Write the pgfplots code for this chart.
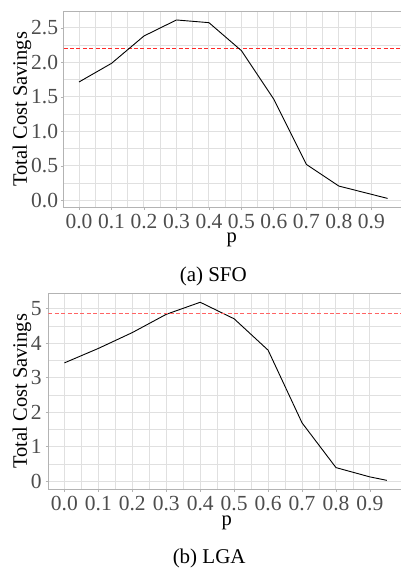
\documentclass[border=0pt]{standalone}
\usepackage{fontspec}
\setmainfont{Liberation Serif}
\newfontfamily\tickfont[Color=4D4D4D]{Liberation Serif}
\usepackage{pgfplots}
\usepackage{pgfplotstable}
\pgfplotsset{compat=1.18}

\definecolor{gridgrey}{RGB}{224,224,224}
\definecolor{bordergrey}{RGB}{179,179,179}
\definecolor{refred}{RGB}{255,40,40}
\definecolor{lgared}{RGB}{255,100,100}

\pgfplotstableread{
p    s
0.00 1.717
0.10 1.987
0.20 2.384
0.30 2.616
0.40 2.577
0.50 2.171
0.60 1.465
0.70 0.522
0.80 0.208
0.95 0.029
}\sfo

\pgfplotstableread{
p    s
0.00 3.43
0.10 3.85
0.20 4.31
0.30 4.84
0.40 5.19
0.50 4.71
0.60 3.80
0.70 1.69
0.80 0.39
0.90 0.12
0.95 0.02
}\lga

\pgfplotsset{ggp/.style={
  scale only axis,
  xmin=-0.0475, xmax=0.9975,
  xtick={0,0.1,0.2,0.3,0.4,0.5,0.6,0.7,0.8,0.9},
  x tick label style={/pgf/number format/fixed, /pgf/number format/zerofill, /pgf/number format/precision=1},
  minor x tick num=1, minor y tick num=1,
  grid=both,
  major grid style={gridgrey, line width=1pt},
  minor grid style={gridgrey, line width=0.6pt},
  axis line style={bordergrey, line width=0.8pt},
  tick align=outside, xtick pos=left, ytick pos=left,
  major tick length=2.75pt, minor tick length=0pt,
  tick style={bordergrey, line width=0.8pt},
  /pgf/number format/assume math mode=true,
  % grey set through the font, not the colour stack
  tick label style={font=\tickfont\fontsize{21.5}{24}\selectfont, inner sep=0pt},
  xticklabel style={anchor=north, yshift=-4pt},
  label style={font=\fontsize{20.5}{24}\selectfont},
  xlabel={p},
  ylabel={Total Cost Savings},
}}

\begin{document}
\begin{tikzpicture}
% (a) SFO
\begin{axis}[ggp,
  at={(63.6pt,-207.3pt)}, anchor=south west,
  width=339.4pt, height=196.3pt,
  ymin=-0.10, ymax=2.746,
  ytick={0,0.5,1,1.5,2,2.5},
  y tick label style={/pgf/number format/fixed, /pgf/number format/zerofill, /pgf/number format/precision=1},
  yticklabel style={anchor=east, xshift=-2.6pt},
  xlabel style={at={(axis description cs:0.5,0)}, anchor=base, yshift=-35.2pt, xshift=-1.5pt},
  ylabel style={at={(axis description cs:0,0.5)}, anchor=base, yshift=36.6pt},
]
\addplot[draw=refred, line width=1pt, dash pattern=on 4pt off 2.4pt] coordinates {(-0.0475,2.205) (0.9975,2.205)};
\addplot[black, line width=0.9pt] table[x=p, y=s] {\sfo};
\end{axis}
\node[anchor=base, font=\fontsize{21}{24}\selectfont] at (213.3pt,-281.7pt) {(a) SFO};

% (b) LGA
\begin{axis}[ggp,
  at={(48.3pt,-489.3pt)}, anchor=south west,
  width=354.7pt, height=196pt,
  ymin=-0.24, ymax=5.45,
  ytick={0,1,2,3,4,5},
  yticklabel style={anchor=east, xshift=-3.8pt},
  xlabel style={at={(axis description cs:0.5,0)}, anchor=base, yshift=-36.6pt, xshift=1pt},
  ylabel style={at={(axis description cs:0,0.5)}, anchor=base, yshift=21.3pt},
]
% black curve first, the dashed reference line after it
\addplot[black, line width=0.9pt] table[x=p, y=s] {\lga};
\addplot[draw=lgared, line width=1.1pt, dash pattern=on 4pt off 2.4pt] coordinates {(-0.0475,4.87) (0.9975,4.87)};
\end{axis}
\node[anchor=base, font=\fontsize{21}{24}\selectfont] at (209.2pt,-563.3pt) {(b) LGA};

\pgfresetboundingbox
\path (0,0) rectangle (401pt,-568pt);
\end{tikzpicture}
\end{document}
